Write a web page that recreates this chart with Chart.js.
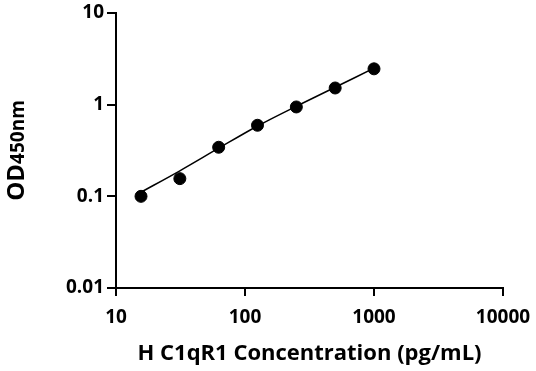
<!DOCTYPE html>
<html>
<head>
<meta charset="utf-8">
<script src="https://cdn.jsdelivr.net/npm/chart.js@4/dist/chart.umd.min.js"></script>
<style>
  html, body { margin: 0; padding: 0; background: #fff; }
  #wrap { width: 536px; height: 371px; }
</style>
</head>
<body>
<div id="wrap"><canvas id="curve"></canvas></div>
<script>
// Standardkurve: Konzentration (pg/mL) gegen OD450
const concentrations = [15.625, 31.25, 62.5, 125, 250, 500, 1000];
const odValues = [0.1, 0.156, 0.343, 0.596, 0.944, 1.52, 2.46];
// Fit-Kurve
const fitValues = [0.111, 0.19, 0.335, 0.585, 0.96, 1.55, 2.5];

const xTicks = [10, 100, 1000, 10000];
const xTickLabels = ['10', '100', '1000', '10000'];
const yTicks = [0.01, 0.1, 1, 10];
const yTickLabels = ['0.01', '0.1', '1', '10'];

const xTitle = 'H C1qR1 Concentration (pg/mL)';
const yTitleMain = 'OD';
const yTitleSub = '450nm';

const FONT = "'Open Sans', 'DejaVu Sans', sans-serif";

// Y-Achsentitel mit zwei Schriftgrößen zeichnen
const yTitlePlugin = {
  id: 'yTitle',
  afterDraw(chart) {
    const ctx = chart.ctx;
    const area = chart.chartArea;
    ctx.save();
    ctx.translate(24, (area.top + area.bottom) / 2);
    ctx.rotate(-Math.PI / 2);
    ctx.fillStyle = '#000';
    ctx.textBaseline = 'alphabetic';
    ctx.font = 'bold 24px ' + FONT;
    const w1 = ctx.measureText(yTitleMain).width;
    ctx.font = 'bold 19px ' + FONT;
    const w2 = ctx.measureText(yTitleSub).width;
    let x = -(w1 + w2) / 2;
    ctx.font = 'bold 24px ' + FONT;
    ctx.fillText(yTitleMain, x, 0);
    ctx.font = 'bold 19px ' + FONT;
    ctx.fillText(yTitleSub, x + w1, 0);
    ctx.restore();
  }
};

const ctx = document.getElementById('curve').getContext('2d');
new Chart(ctx, {
  type: 'scatter',
  data: {
    datasets: [
      {
        label: 'Fit',
        data: concentrations.map((c, i) => ({ x: c, y: fitValues[i] })),
        showLine: true,
        borderColor: '#000',
        borderWidth: 1.5,
        pointRadius: 0,
        tension: 0.3
      },
      {
        label: 'OD',
        data: concentrations.map((c, i) => ({ x: c, y: odValues[i] })),
        backgroundColor: '#000',
        borderColor: '#000',
        pointRadius: 6,
        pointHoverRadius: 6
      }
    ]
  },
  options: {
    responsive: true,
    maintainAspectRatio: false,
    animation: false,
    layout: { padding: { left: 0, right: 33, top: 13, bottom: 0 } },
    plugins: {
      legend: { display: false },
      tooltip: { enabled: false }
    },
    scales: {
      x: {
        type: 'logarithmic',
        min: 10,
        max: 10000,
        afterBuildTicks: (scale) => { scale.ticks = xTicks.map(v => ({ value: v })); },
        afterFit: (scale) => {
          scale.height = 83;
          scale.paddingLeft = 0;
          scale.paddingRight = 0;
        },
        ticks: {
          color: '#000',
          font: { family: FONT, size: 19, weight: 'bold' },
          padding: 10,
          maxRotation: 0,
          callback: (v) => xTickLabels[xTicks.indexOf(v)]
        },
        grid: { drawOnChartArea: false, drawTicks: true, tickLength: 8, color: '#000', lineWidth: 2 },
        border: { color: '#000', width: 2 },
        title: {
          display: true,
          text: xTitle,
          color: '#000',
          font: { family: FONT, size: 22, weight: 'bold' },
          padding: { top: 2 }
        }
      },
      y: {
        type: 'logarithmic',
        min: 0.01,
        max: 10,
        afterBuildTicks: (scale) => { scale.ticks = yTicks.map(v => ({ value: v })); },
        afterFit: (scale) => {
          scale.width = 116;
          scale.paddingTop = 0;
          scale.paddingBottom = 0;
        },
        ticks: {
          color: '#000',
          font: { family: FONT, size: 19, weight: 'bold' },
          padding: 3,
          callback: (v) => yTickLabels[yTicks.indexOf(v)]
        },
        grid: { drawOnChartArea: false, drawTicks: true, tickLength: 9, color: '#000', lineWidth: 2 },
        border: { color: '#000', width: 2 }
      }
    }
  },
  plugins: [yTitlePlugin]
});
</script>
</body>
</html>
